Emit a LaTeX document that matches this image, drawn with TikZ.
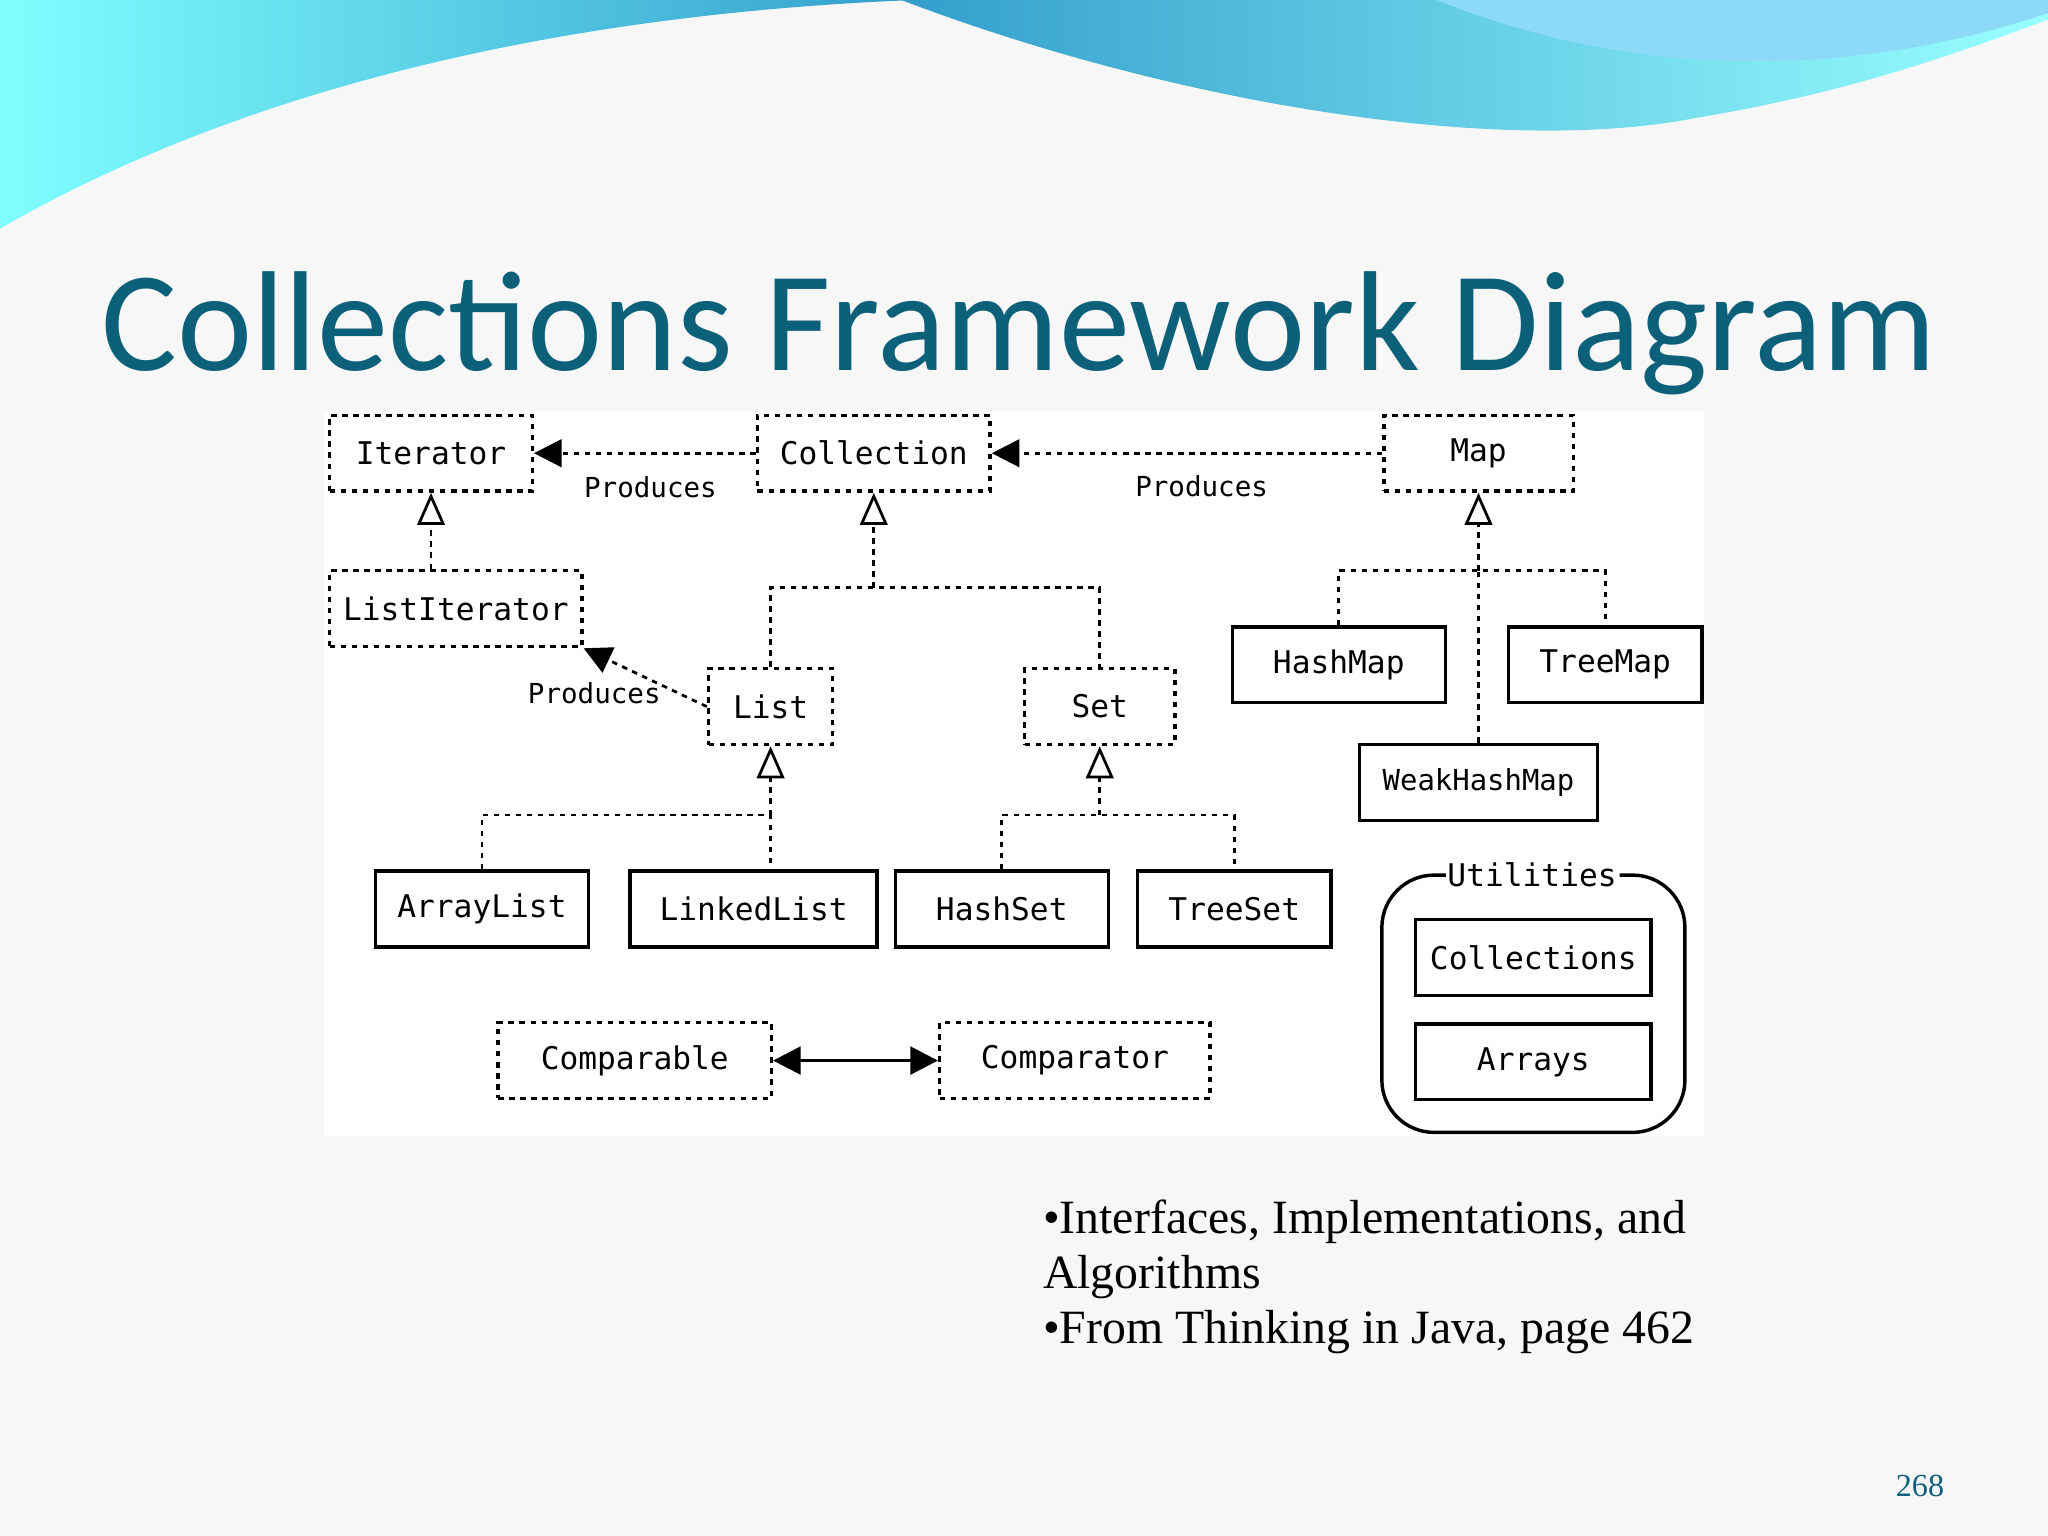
\documentclass[tikz,border=0pt]{standalone}
\usepackage{fontspec}
\setmainfont{Liberation Serif}
\newfontfamily\titlefont{Carlito}
\newfontfamily\boxfont{DejaVu Sans Mono}
\usetikzlibrary{arrows.meta}
\definecolor{teal1}{RGB}{12,96,122}
\begin{document}
\begin{tikzpicture}[x=0.01cm,y=-0.01cm,
  bx/.style={draw,line width=0.75pt,font=\boxfont\fontsize{6.8}{8}\selectfont,minimum height=0.58cm,inner sep=0pt},
  dbx/.style={bx,dash pattern=on 1.2pt off 1.2pt},
  dl/.style={line width=0.6pt,dash pattern=on 1.2pt off 1.2pt},
  inh/.style={dl,-{Triangle[open,length=7pt,width=6pt]}},
  prod/.style={dl,-{Triangle[length=6pt,width=6pt]}},
  lbl/.style={font=\boxfont\fontsize{6}{7}\selectfont}]
\useasboundingbox (0,0) rectangle (1568,1176);
\fill[white!95!blue!40!gray!10] (0,0) rectangle (1568,1176);
% waves
\shade[left color=cyan!50!white,right color=blue!30!cyan!60!gray] (0,0) -- (0,175) .. controls (200,60) and (450,10) .. (700,0) -- cycle;
\shade[left color=blue!30!cyan!60!gray,right color=cyan!40!white] (690,0) .. controls (900,80) and (1150,120) .. (1300,90) .. controls (1420,70) and (1500,40) .. (1568,15) -- (1568,0) -- cycle;
\fill[cyan!45!white] (1100,0) .. controls (1300,80) and (1480,40) .. (1568,10) -- (1568,0) -- cycle;
\node[text=teal1,font=\titlefont\fontsize{31}{35}\selectfont] (title) at (780,255) {Collections Framework Diagram};
\fill[white] (248,315) rectangle (1305,870);
% nodes
\node[dbx,minimum width=1.55cm] (it) at (330,347) {Iterator};
\node[dbx,minimum width=1.78cm] (col) at (669,347) {Collection};
\node[dbx,minimum width=1.45cm] (map) at (1132,347) {Map};
\node[dbx,minimum width=1.93cm] (li) at (349,466) {ListIterator};
\node[dbx,minimum width=0.95cm] (list) at (590,541) {List};
\node[dbx,minimum width=1.15cm] (set) at (842,541) {Set};
\node[bx,minimum width=1.63cm] (hm) at (1025,509) {HashMap};
\node[bx,minimum width=1.48cm] (tm) at (1229,509) {TreeMap};
\node[bx,minimum width=1.82cm,font=\boxfont\fontsize{6.3}{7}\selectfont] (whm) at (1132,599) {WeakHashMap};
\node[bx,minimum width=1.63cm] (al) at (369,696) {ArrayList};
\node[bx,minimum width=1.89cm] (ll) at (577,696) {LinkedList};
\node[bx,minimum width=1.63cm] (hs) at (767,696) {HashSet};
\node[bx,minimum width=1.48cm] (ts) at (945,696) {TreeSet};
\node[dbx,minimum width=2.09cm] (cmpb) at (486,812) {Comparable};
\node[dbx,minimum width=2.07cm] (cmpr) at (823,812) {Comparator};
\draw[line width=0.75pt,rounded corners=0.4cm] (1107,670) -- (1058,670) -- (1058,867) -- (1290,867) -- (1290,670) -- (1240,670);
\node[font=\boxfont\fontsize{6.8}{8}\selectfont] (ut) at (1173,670) {Utilities};
\node[bx,minimum width=1.80cm] (cs) at (1174,733) {Collections};
\node[bx,minimum width=1.80cm] (ar) at (1174,813) {Arrays};
% produces
\draw[prod] (col.west) -- (it.east);
\node[lbl] (p1) at (498,373) {Produces};
\draw[prod] (map.west) -- (col.east);
\node[lbl] (p2) at (920,372) {Produces};
\draw[prod] (list.west) -- (li.south east);
\node[lbl] (p3) at (455,531) {Produces};
% inheritance
\draw[inh] (li.north -| it.south) -- (it.south);
\coordinate (jc) at (669,450);
\draw[inh] (jc) -- (col.south);
\draw[dl] (list.north) |- (jc) -| (set.north);
\coordinate (jm) at (1132,437);
\draw[inh] (jm) -- (map.south);
\draw[dl] (hm.north) |- (jm) -| (tm.north);
\draw[dl] (whm.north) -- (jm);
\coordinate (jl) at (590,624);
\draw[inh] (jl) -- (list.south);
\draw[dl] (al.north) |- (jl) -- (jl|-ll.north);
\coordinate (js) at (842,624);
\draw[inh] (js) -- (set.south);
\draw[dl] (hs.north) |- (js) -| (ts.north);
\draw[line width=0.8pt,{Triangle[length=6pt,width=6pt]}-{Triangle[length=6pt,width=6pt]}] (cmpb.east) -- (cmpr.west);
% text
\node[anchor=north west,align=left,font=\fontsize{10.4}{12}\selectfont,inner sep=0pt] (txt) at (798,918) {•Interfaces, Implementations, and\\Algorithms\\•From Thinking in Java, page 462};
\node[text=teal1,font=\fontsize{7}{8}\selectfont] (pg) at (1470,1138) {268};
\end{tikzpicture}
\end{document}
